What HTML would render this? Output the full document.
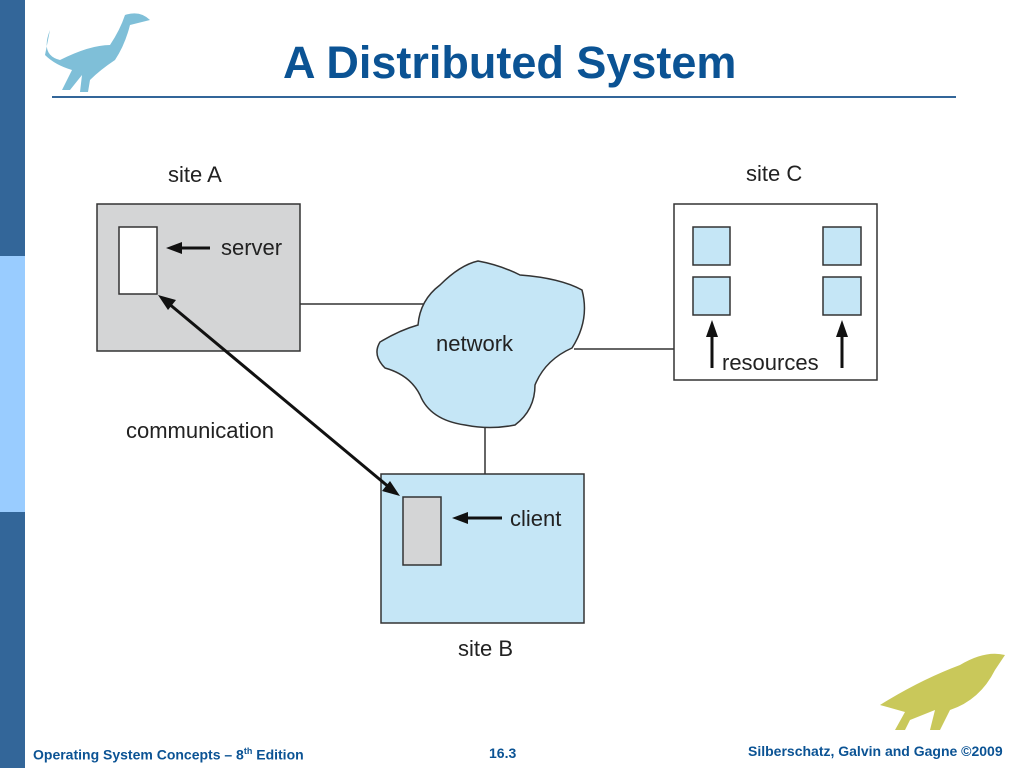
<!DOCTYPE html>
<html><head><style>
body{margin:0;width:1024px;height:768px;background:#fff;position:relative;overflow:hidden;font-family:"Liberation Sans",sans-serif}
.t{position:absolute;white-space:nowrap}
</style></head><body>
<div style="position:absolute;left:0;top:0;width:25px;height:768px;background:#336699"></div>
<div style="position:absolute;left:0;top:256px;width:25px;height:256px;background:#99ccff"></div>
<div class="t" style="left:283px;top:37px;font-size:45px;font-weight:bold;color:#0b5394">A Distributed System</div>
<div style="position:absolute;left:52px;top:96px;width:904px;height:2px;background:#336699"></div>
<svg width="1024" height="768" style="position:absolute;left:0;top:0">
<path d="M50 30 Q40 55 60 60 Q90 45 110 45 Q120 30 125 15 Q140 10 150 20 L130 25 Q125 45 115 60 Q100 70 90 80 L88 92 L80 92 L82 75 L70 90 L62 90 L72 70 Q55 65 45 55 Z" fill="#7fbfd8"/>
<path d="M880 705 Q920 680 960 665 Q985 650 1005 655 L995 670 Q980 700 950 710 L940 730 L930 730 L935 710 L910 720 L905 730 L895 730 L905 712 Z" fill="#c9c85a"/>
<rect x="97" y="204" width="203" height="147" fill="#d4d5d6" stroke="#333" stroke-width="1.5"/>
<rect x="119" y="227" width="38" height="67" fill="#fff" stroke="#333" stroke-width="1.5"/>
<line x1="300" y1="304" x2="424" y2="304" stroke="#333" stroke-width="1.5"/>
<line x1="574" y1="349" x2="674" y2="349" stroke="#333" stroke-width="1.5"/>
<line x1="485" y1="427" x2="485" y2="474" stroke="#333" stroke-width="1.5"/>
<rect x="674" y="204" width="203" height="176" fill="#fff" stroke="#333" stroke-width="1.5"/>
<g fill="#c5e6f6" stroke="#333" stroke-width="1.5">
<rect x="693" y="227" width="37" height="38"/><rect x="693" y="277" width="37" height="38"/>
<rect x="823" y="227" width="38" height="38"/><rect x="823" y="277" width="38" height="38"/>
</g>
<rect x="381" y="474" width="203" height="149" fill="#c5e6f6" stroke="#333" stroke-width="1.5"/>
<rect x="403" y="497" width="38" height="68" fill="#d4d5d6" stroke="#333" stroke-width="1.5"/>
<path d="M478 261 Q500 265 520 275 Q560 278 582 290 Q590 320 572 348 Q545 360 535 385 Q535 410 515 425 Q490 430 465 425 Q430 420 420 395 Q410 375 385 368 Q372 355 380 342 Q400 330 418 325 Q420 300 440 285 Q460 265 478 261 Z" fill="#c5e6f6" stroke="#333" stroke-width="1.5"/>
<g stroke="#111" stroke-width="3" fill="#111">
<line x1="180" y1="248" x2="210" y2="248"/><polygon points="166,248 182,242 182,254" stroke="none"/>
<line x1="466" y1="518" x2="502" y2="518"/><polygon points="452,518 468,512 468,524" stroke="none"/>
<line x1="712" y1="335" x2="712" y2="368"/><polygon points="712,320 706,337 718,337" stroke="none"/>
<line x1="842" y1="335" x2="842" y2="368"/><polygon points="842,320 836,337 848,337" stroke="none"/>
<line x1="168" y1="303" x2="390" y2="488"/>
<polygon points="158,295 176,300 168,310" stroke="none"/>
<polygon points="400,496 382,491 390,481" stroke="none"/>
</g>
</svg>
<div class="t" style="left:168px;top:162px;font-size:22px;color:#222">site A</div>
<div class="t" style="left:221px;top:235px;font-size:22px;color:#222">server</div>
<div class="t" style="left:746px;top:161px;font-size:22px;color:#222">site C</div>
<div class="t" style="left:436px;top:331px;font-size:22px;color:#222">network</div>
<div class="t" style="left:722px;top:350px;font-size:22px;color:#222">resources</div>
<div class="t" style="left:126px;top:418px;font-size:22px;color:#222">communication</div>
<div class="t" style="left:510px;top:506px;font-size:22px;color:#222">client</div>
<div class="t" style="left:458px;top:636px;font-size:22px;color:#222">site B</div>
<div class="t" style="left:33px;top:746px;font-size:14px;font-weight:bold;color:#0b5394">Operating System Concepts – 8<sup style="font-size:9px">th</sup> Edition</div>
<div class="t" style="left:489px;top:745px;font-size:14px;font-weight:bold;color:#0b5394">16.3</div>
<div class="t" style="left:748px;top:743px;font-size:14px;font-weight:bold;color:#0b5394">Silberschatz, Galvin and Gagne ©2009</div>
</body></html>
